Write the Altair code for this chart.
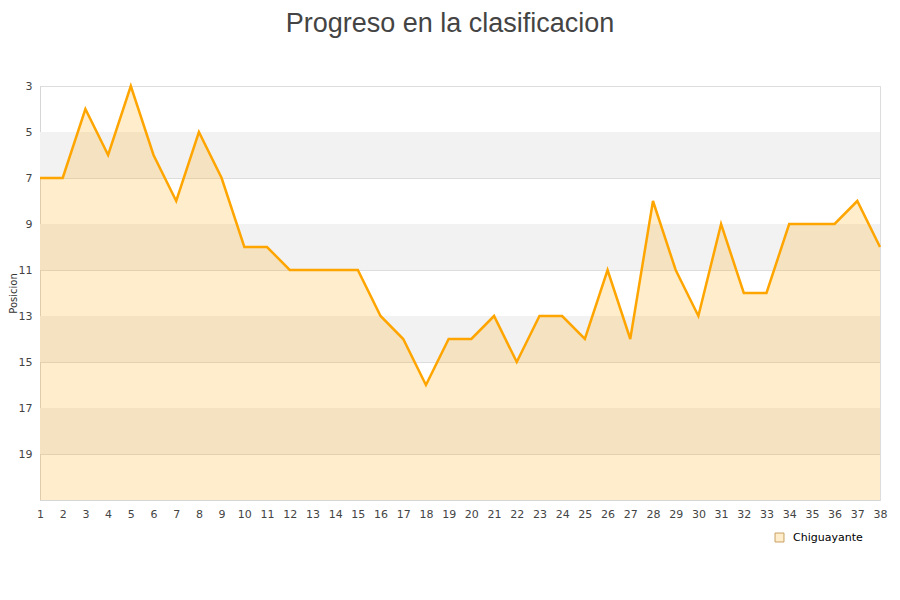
import altair as alt
import pandas as pd

# Jornadas y posicion en la tabla
jornadas = list(range(1, 39))
posiciones = [
    7, 7, 4, 6, 3, 6, 8, 5, 7, 10,
    10, 11, 11, 11, 11, 13, 14, 16, 14, 14,
    13, 15, 13, 13, 14, 11, 14, 8, 11, 13,
    9, 12, 12, 9, 9, 9, 8, 10,
]
equipo = "Chiguayante"

# Bandas grises de fondo
banda_inicio = [5, 9, 13, 17]
banda_fin = [7, 11, 15, 19]
y_ticks = [3, 5, 7, 9, 11, 13, 15, 17, 19]

data = pd.DataFrame({"jornada": jornadas, "posicion": posiciones, "equipo": equipo})
bands = pd.DataFrame({"y0": banda_inicio, "y1": banda_fin})

x_scale = alt.Scale(domain=[1, 38], nice=False, zero=False)
y_scale = alt.Scale(domain=[3, 21], reverse=True, nice=False, zero=False)

x_axis = alt.Axis(
    values=jornadas,
    title=None,
    labelAngle=0,
    ticks=False,
    grid=False,
    labelFont="DejaVu Sans",
    labelFontSize=11,
    labelColor="#444444",
    labelPadding=8,
    domainColor="#d6d6d6",
    labelOverlap=False,
    labelFlush=False,
)
y_axis = alt.Axis(
    values=y_ticks,
    title="Posicion",
    titleFont="DejaVu Sans",
    titleFontSize=10,
    titleFontWeight="normal",
    titleColor="#333333",
    titlePadding=0,
    ticks=False,
    gridColor="#dddddd",
    labelFont="DejaVu Sans",
    labelFontSize=11,
    labelColor="#444444",
    labelPadding=8,
    domainColor="#d6d6d6",
)

band_layer = (
    alt.Chart(bands)
    .mark_rect(color="#f2f2f2")
    .encode(
        x=alt.value(0),
        x2=alt.value(840),
        y=alt.Y("y0:Q", scale=y_scale, axis=y_axis),
        y2="y1:Q",
    )
)

area_layer = (
    alt.Chart(data)
    .mark_area(color="#FFA500", fillOpacity=0.2)
    .encode(
        x=alt.X("jornada:Q", scale=x_scale, axis=x_axis),
        y=alt.Y("posicion:Q", scale=y_scale, axis=y_axis),
        y2=alt.datum(21),
    )
)

line_layer = (
    alt.Chart(data)
    .mark_line(color="#FFA500", strokeWidth=2.5)
    .encode(
        x=alt.X("jornada:Q", scale=x_scale, axis=x_axis),
        y=alt.Y("posicion:Q", scale=y_scale, axis=y_axis),
    )
)

# capa solo para la leyenda (cuadrados de tamano cero)
legend_layer = (
    alt.Chart(data)
    .mark_square(size=0, opacity=1, filled=True)
    .encode(
        x=alt.X("jornada:Q", scale=x_scale, axis=x_axis),
        y=alt.Y("posicion:Q", scale=y_scale, axis=y_axis),
        fill=alt.Fill(
            "equipo:N",
            scale=alt.Scale(range=["#FFEDCC"]),
            legend=alt.Legend(
                title=None,
                orient="none",
                legendX=734,
                legendY=446,
                symbolType="square",
                symbolSize=80,
                symbolStrokeColor="#c8a060",
                symbolStrokeWidth=1,
                symbolOpacity=1,
                labelFont="DejaVu Sans",
                labelFontSize=11,
                labelColor="#000000",
                labelOffset=8,
            ),
        ),
    )
)

chart = (
    alt.layer(band_layer, area_layer, line_layer, legend_layer)
    .properties(
        width=840,
        height=414,
        title=alt.TitleParams(
            "Progreso en la clasificacion",
            font="Liberation Sans",
            fontSize=27,
            fontWeight="normal",
            color="#444444",
            anchor="middle",
            dx=-10,
            offset=42,
        ),
        autosize=alt.AutoSizeParams(type="none"),
        padding={"left": 32, "top": 78, "right": 12, "bottom": 92},
    )
    .configure_view(stroke="#dddddd")
)

chart.save("out.html", embed_options={"renderer": "svg", "actions": False})
